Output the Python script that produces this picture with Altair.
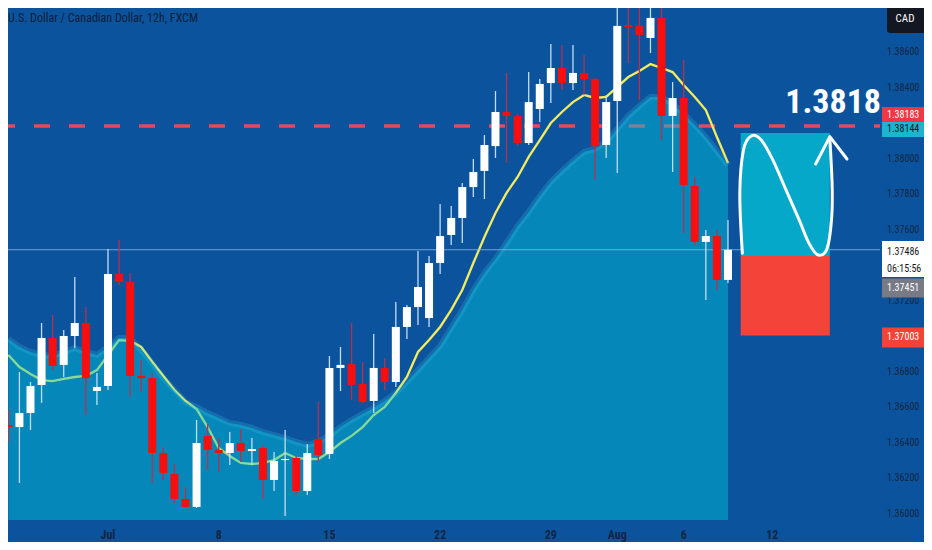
import altair as alt
import pandas as pd

# ---------------- data ----------------
OPEN = [1.36499, 1.36487, 1.36566, 1.36724, 1.36989, 1.36837, 1.37000, 1.37073, 1.36690, 1.36718,
        1.37349, 1.37304, 1.36775, 1.36763, 1.36341, 1.36223, 1.36082, 1.36037, 1.36437, 1.36358,
        1.36341, 1.36397, 1.36352, 1.36369, 1.36189, 1.36301, 1.36313, 1.36127, 1.36420, 1.36335,
        1.36820, 1.36842, 1.36730, 1.36634, 1.36820, 1.36741, 1.37051, 1.37163, 1.37101, 1.37411,
        1.37569, 1.37665, 1.37839, 1.37930, 1.38070, 1.38262, 1.38240, 1.38087, 1.38279, 1.38425,
        1.38510, 1.38425, 1.38482, 1.38448, 1.38076, 1.38324, 1.38752, 1.38747, 1.38679, 1.38792,
        1.38240, 1.38341, 1.37845, 1.37530, 1.37563, 1.37316]
HIGH = [1.36583, 1.36797, 1.36741, 1.37073, 1.37118, 1.37034, 1.37332, 1.37163, 1.36792, 1.37490,
        1.37541, 1.37355, 1.36865, 1.36792, 1.36375, 1.36279, 1.36149, 1.36527, 1.36504, 1.36425,
        1.36459, 1.36476, 1.36425, 1.36386, 1.36346, 1.36470, 1.36324, 1.36392, 1.36628, 1.36887,
        1.36938, 1.37073, 1.36854, 1.37011, 1.36876, 1.37192, 1.37175, 1.37479, 1.37451, 1.37744,
        1.37732, 1.37862, 1.37997, 1.38132, 1.38380, 1.38482, 1.38251, 1.38487, 1.38448, 1.38645,
        1.38640, 1.38640, 1.38583, 1.38454, 1.38358, 1.38882, 1.38882, 1.38854, 1.38882, 1.38854,
        1.38431, 1.38555, 1.37896, 1.37597, 1.37597, 1.37654]
LOW = [1.36403, 1.36172, 1.36470, 1.36623, 1.36808, 1.36769, 1.36932, 1.36555, 1.36611, 1.36696,
       1.37287, 1.36656, 1.36685, 1.36172, 1.36189, 1.36059, 1.36031, 1.36031, 1.36245, 1.36234,
       1.36273, 1.36290, 1.36273, 1.36082, 1.36127, 1.35986, 1.36104, 1.36104, 1.36290, 1.36307,
       1.36690, 1.36639, 1.36623, 1.36566, 1.36696, 1.36713, 1.36983, 1.37062, 1.37051, 1.37349,
       1.37513, 1.37524, 1.37783, 1.37772, 1.38003, 1.37975, 1.38070, 1.38076, 1.38206, 1.38313,
       1.38386, 1.38386, 1.38358, 1.37879, 1.38003, 1.37918, 1.38538, 1.38330, 1.38594, 1.38104,
       1.37924, 1.37580, 1.37513, 1.37203, 1.37259, 1.37299]
CLOSE = [1.36487, 1.36566, 1.36718, 1.36989, 1.36831, 1.37000, 1.37073, 1.36763, 1.36713, 1.37349,
         1.37304, 1.36775, 1.36763, 1.36341, 1.36228, 1.36082, 1.36037, 1.36397, 1.36358, 1.36341,
         1.36397, 1.36352, 1.36363, 1.36189, 1.36296, 1.36307, 1.36127, 1.36341, 1.36330, 1.36820,
         1.36837, 1.36724, 1.36628, 1.36820, 1.36741, 1.37051, 1.37163, 1.37276, 1.37411, 1.37563,
         1.37665, 1.37839, 1.37924, 1.38076, 1.38262, 1.38240, 1.38087, 1.38318, 1.38420, 1.38510,
         1.38425, 1.38482, 1.38448, 1.38070, 1.38318, 1.38747, 1.38741, 1.38696, 1.38792, 1.38240,
         1.38341, 1.37851, 1.37530, 1.37563, 1.37316, 1.37486]
# yellow moving-average line
MA = [1.36893, 1.36825, 1.36786, 1.36752, 1.36746, 1.36758, 1.36769, 1.36775, 1.36808, 1.36893,
      1.36977, 1.36972, 1.36938, 1.36854, 1.36775, 1.36696, 1.36634, 1.36589, 1.36487, 1.36369,
      1.36324, 1.36285, 1.36279, 1.36285, 1.36301, 1.36341, 1.36313, 1.36307, 1.36307, 1.36346,
      1.36397, 1.36437, 1.36487, 1.36555, 1.36600, 1.36679, 1.36769, 1.36910, 1.36977, 1.37051,
      1.37147, 1.37259, 1.37411, 1.37558, 1.37693, 1.37806, 1.37896, 1.38009, 1.38104, 1.38200,
      1.38262, 1.38318, 1.38358, 1.38341, 1.38347, 1.38403, 1.38459, 1.38493, 1.38532, 1.38510,
      1.38487, 1.38414, 1.38347, 1.38273, 1.38121, 1.37975]
# upper edge of the shaded area
AREA_TOP = [1.36983, 1.36938, 1.36910, 1.36893, 1.36887, 1.36910, 1.36932, 1.36910, 1.36893, 1.36938,
            1.36989, 1.36989, 1.36921, 1.36848, 1.36763, 1.36696, 1.36628, 1.36600, 1.36566, 1.36538,
            1.36510, 1.36499, 1.36482, 1.36459, 1.36442, 1.36425, 1.36403, 1.36386, 1.36403, 1.36437,
            1.36487, 1.36527, 1.36561, 1.36594, 1.36634, 1.36679, 1.36741, 1.36808, 1.36876, 1.36944,
            1.37045, 1.37147, 1.37259, 1.37355, 1.37434, 1.37524, 1.37620, 1.37699, 1.37789, 1.37868,
            1.37930, 1.37986, 1.38037, 1.38054, 1.38093, 1.38166, 1.38240, 1.38296, 1.38347, 1.38347,
            1.38307, 1.38251, 1.38189, 1.38121, 1.38042, 1.37963]

TICK_IDX = [9, 19, 29, 39, 49, 55, 61, 69]
TICK_LABELS = ["Jul", "8", "15", "22", "29", "Aug", "6", "12"]
# price-scale ticks that are visible (1.37400 and 1.38200 sit under the tags)
PRICE_TICKS = [1.360, 1.362, 1.364, 1.366, 1.368, 1.370, 1.372, 1.376,
               1.378, 1.380, 1.384, 1.386]

TITLE = "U.S. Dollar / Canadian Dollar, 12h, FXCM"
RESIST = 1.38183
TARGET = 1.38144
ENTRY = 1.37451
STOP = 1.37003
LAST = 1.37486
COUNTDOWN = "06:15:56"
PROJ_I = [66.15, 74.2]
BIG_LABEL = "1.3818"
BIG_LABEL_POS = [74.5, 1.38313]

CURVE_I = [66.3, 66.07, 66.4, 67.1, 68.0, 69.05, 70.24, 71.43, 72.32, 73.16, 73.96, 74.35, 74.41, 74.2]
CURVE_P = [1.37466, 1.37804, 1.38048, 1.38127, 1.38104, 1.37992, 1.37823, 1.37654, 1.37522,
           1.37456, 1.37494, 1.37654, 1.37841, 1.38114]
ARROW_I = [72.92, 74.2, 75.75]
ARROW_P = [1.37969, 1.38123, 1.37997]

# ---------------- styling ----------------
BG = "#0b549d"
AREA_C = "#00c5db"
UP = "#ffffff"
DOWN = "#f70f0f"
TXT = "#122544"
FONT = "Liberation Sans Narrow, Roboto Condensed, Roboto, sans-serif"

X_DOM = [0.42, 78.28]
Y_DOM = [1.359634, 1.388479]
W, H = 872, 512

xs = alt.Scale(domain=X_DOM, nice=False, zero=False)
ys = alt.Scale(domain=Y_DOM, nice=False, zero=False)


def X(f):
    return alt.X(f, type="quantitative", scale=xs, axis=None)


def Y(f):
    return alt.Y(f, type="quantitative", scale=ys, axis=None)


n = len(OPEN)
df = pd.DataFrame({"i": list(range(n)), "o": OPEN, "h": HIGH, "l": LOW, "c": CLOSE,
                   "ma": MA, "top": AREA_TOP})
one = pd.DataFrame({"k": [0]})

up_cond = "datum.c >= datum.o"

# horizontal dashed resistance
resist = alt.Chart(one).mark_rule(color="#e8475c", strokeWidth=3.5, strokeDash=[16, 19],
                                  strokeDashOffset=10, clip=True).encode(
    y=alt.YDatum(RESIST, scale=ys, axis=None))

ma_line = alt.Chart(df).mark_line(color="#f4ec5e", strokeWidth=2.3, clip=True).encode(
    x=X("i"), y=Y("ma"))

area = alt.Chart(df).mark_area(color=AREA_C, opacity=0.45, clip=True).encode(
    x=X("i"), y=Y("top"), y2=alt.Y2Datum(Y_DOM[0]))

area_band = alt.Chart(df).mark_line(color="#40d0f0", opacity=0.2, strokeWidth=6, clip=True).encode(
    x=X("i"), y=Y("top"))

last_line = alt.Chart(one).mark_rule(color="#8cbcec", strokeWidth=1, opacity=0.75).encode(
    y=alt.YDatum(LAST, scale=ys, axis=None))

wicks = alt.Chart(df).mark_rule(strokeWidth=1.3, clip=True).encode(
    x=X("i"), y=Y("l"), y2="h",
    color=alt.condition(up_cond, alt.value("#c4dcf2"), alt.value("#b8304e")),
)

bodies = alt.Chart(df).mark_bar(size=8, clip=True).encode(
    x=X("i"), y=Y("o"), y2="c",
    color=alt.condition(up_cond, alt.value(UP), alt.value(DOWN)),
)

# time scale labels
time_df = pd.DataFrame({"i": TICK_IDX, "t": TICK_LABELS})
time_labels = alt.Chart(time_df).mark_text(color=TXT, fontSize=12, fontWeight="bold", font=FONT,
                                           align="center", baseline="middle").encode(
    x=X("i"), y=alt.value(527), text="t:N")

# price scale labels
price_df = pd.DataFrame({"p": PRICE_TICKS, "t": ["%.5f" % v for v in PRICE_TICKS]})
price_labels = alt.Chart(price_df).mark_text(color=TXT, fontSize=10, font=FONT, align="left",
                                             baseline="middle").encode(
    x=alt.value(879), y=Y("p"), text="t:N")

proj = pd.DataFrame({"i0": [PROJ_I[0], PROJ_I[0]], "i1": [PROJ_I[1], PROJ_I[1]],
                     "p0": [TARGET, ENTRY], "p1": [ENTRY, STOP],
                     "z": ["tp", "sl"]})
proj_rects = alt.Chart(proj).mark_rect().encode(
    x=X("i0"), x2="i1", y=Y("p0"), y2="p1",
    color=alt.Color("z:N", scale=alt.Scale(domain=["tp", "sl"], range=["#06a8c9", "#f4443a"]),
                    legend=None))

curve_df = pd.DataFrame({"i": CURVE_I, "p": CURVE_P, "k": list(range(len(CURVE_I)))})
curve = alt.Chart(curve_df).mark_line(color="white", strokeWidth=3, interpolate="cardinal",
                                      strokeCap="round").encode(
    x=X("i"), y=Y("p"), order="k:Q")

arrow_df = pd.DataFrame({"i": ARROW_I, "p": ARROW_P, "k": list(range(len(ARROW_I)))})
arrow = alt.Chart(arrow_df).mark_line(color="white", strokeWidth=3, strokeCap="round",
                                      strokeJoin="round").encode(
    x=X("i"), y=Y("p"), order="k:Q")

big_df = pd.DataFrame({"i": [BIG_LABEL_POS[0]], "p": [BIG_LABEL_POS[1]], "t": [BIG_LABEL]})
big_text = alt.Chart(big_df).mark_text(color="white", fontSize=34, fontWeight="bold", font=FONT,
                                       align="center", baseline="middle").encode(
    x=X("i"), y=Y("p"), text="t:N")

title_df = pd.DataFrame({"t": [TITLE]})
title = alt.Chart(title_df).mark_text(color="#0e1c38", fontSize=12, font=FONT, align="left",
                                      baseline="middle").encode(
    x=alt.value(0), y=alt.value(10), text="t:N")

cad_df = pd.DataFrame({"t": ["CAD"]})
cad_box = alt.Chart(cad_df).mark_rect(color="#131722", cornerRadius=3).encode(
    x=alt.value(879), x2=alt.value(918), y=alt.value(-3), y2=alt.value(25))
cad_text = alt.Chart(cad_df).mark_text(color="white", fontSize=11, font=FONT, align="center",
                                       baseline="middle").encode(
    x=alt.value(897), y=alt.value(11), text="t:N")

# price-scale tags: price, text, background, text colour, pixel shift, box height
LABEL_P = [RESIST, TARGET, LAST, ENTRY, STOP]
LABEL_T = ["1.38183", "1.38144", "1.37486", "1.37451", "1.37003"]
LABEL_BG = ["#f23645", "#1cb4cf", "#ffffff", "#787b86", "#f44336"]
LABEL_FG = ["#ffffff", "#131722", "#131722", "#ffffff", "#ffffff"]
LABEL_SHIFT = [-11.5, -3.5, 9.3, 32, 2]
LABEL_H = [15, 15, 36, 19, 20]
LABEL_TEXT_SHIFT = [-11.5, -3.5, 2, 32, 2]

label_layers = []
for p, t, bg, fg, sh, hh, tsh in zip(LABEL_P, LABEL_T, LABEL_BG, LABEL_FG, LABEL_SHIFT,
                                     LABEL_H, LABEL_TEXT_SHIFT):
    d = pd.DataFrame({"t": [t]})
    label_layers.append(alt.Chart(d).mark_rule(color=bg, strokeWidth=hh, yOffset=sh,
                                               strokeCap="butt").encode(
        x=alt.value(874), x2=alt.value(920), y=alt.YDatum(p, scale=ys, axis=None)))
    label_layers.append(alt.Chart(d).mark_text(color=fg, fontSize=10, font=FONT, align="left",
                                               baseline="middle", yOffset=tsh).encode(
        x=alt.value(879), y=alt.YDatum(p, scale=ys, axis=None), text="t:N"))
cd = pd.DataFrame({"t": [COUNTDOWN]})
label_layers.append(alt.Chart(cd).mark_text(color="#131722", fontSize=10, font=FONT, align="left",
                                            baseline="middle", yOffset=19).encode(
    x=alt.value(879), y=alt.YDatum(LAST, scale=ys, axis=None), text="t:N"))

chart = alt.layer(
    resist, ma_line, area, area_band, last_line, wicks, bodies, time_labels, price_labels,
    proj_rects, curve, arrow, big_text, title, cad_box, cad_text, *label_layers
).properties(
    width=W, height=H,
    autosize=alt.AutoSizeParams(type="none"),
    padding={"left": 0, "top": 0, "right": 44, "bottom": 22},
    background=BG,
).configure_view(strokeWidth=0)

chart.save("out.html", embed_options={"renderer": "svg", "actions": False})
